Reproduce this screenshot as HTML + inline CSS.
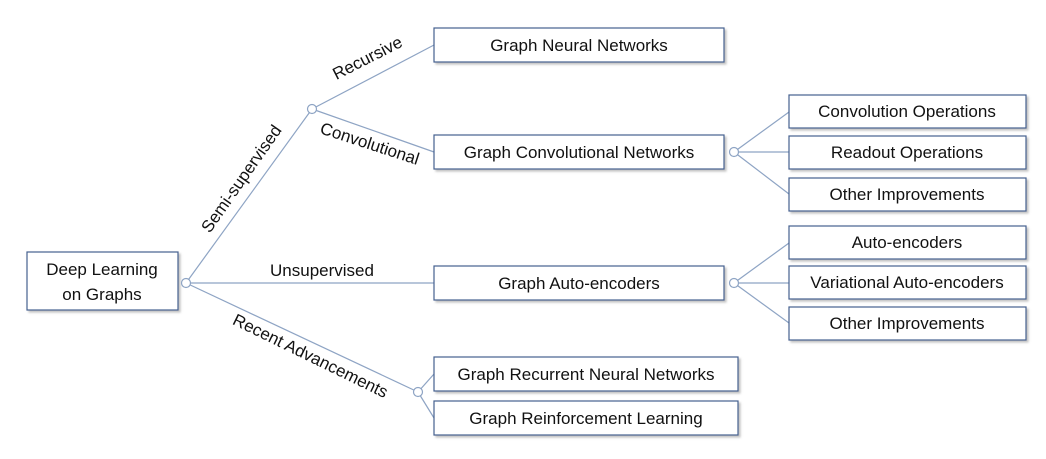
<!DOCTYPE html>
<html><head><meta charset="utf-8"><style>
html,body{margin:0;padding:0;background:#fff;}
svg{display:block;}
text{font-family:"Liberation Sans",sans-serif;font-size:17px;fill:#111;}
</style></head><body>
<svg width="1046" height="459" viewBox="0 0 1046 459">
<defs>
<filter id="sh" x="-5%" y="-10%" width="115%" height="130%"><feDropShadow dx="2" dy="2" stdDeviation="1" flood-color="#999" flood-opacity="0.6"/></filter>
</defs>
<g stroke="#8ea4c4" stroke-width="1.2" fill="none">
<line x1="186" y1="283" x2="312" y2="109"/>
<line x1="312" y1="109" x2="434" y2="45"/>
<line x1="312" y1="109" x2="434" y2="152"/>
<line x1="186" y1="283" x2="434" y2="283"/>
<line x1="186" y1="283" x2="418" y2="392"/>
<line x1="418" y1="392" x2="434" y2="374"/>
<line x1="418" y1="392" x2="434" y2="418"/>
<line x1="734" y1="152" x2="789" y2="112"/>
<line x1="734" y1="152" x2="789" y2="152"/>
<line x1="734" y1="152" x2="789" y2="194"/>
<line x1="734" y1="283" x2="789" y2="243"/>
<line x1="734" y1="283" x2="789" y2="283"/>
<line x1="734" y1="283" x2="789" y2="323"/>
</g>
<g fill="#fff" stroke="#44608f" stroke-width="1.2" filter="url(#sh)">
<rect x="27" y="252" width="151" height="58"/>
<rect x="434" y="28" width="290" height="34"/>
<rect x="434" y="135" width="290" height="34"/>
<rect x="434" y="266" width="290" height="34"/>
<rect x="434" y="357" width="304" height="34"/>
<rect x="434" y="401" width="304" height="34"/>
<rect x="789" y="95" width="237" height="33"/>
<rect x="789" y="136" width="237" height="33"/>
<rect x="789" y="178" width="237" height="33"/>
<rect x="789" y="226" width="237" height="33"/>
<rect x="789" y="266" width="237" height="33"/>
<rect x="789" y="307" width="237" height="33"/>
</g>
<g fill="#fff" stroke="#8ea4c4" stroke-width="1.2">
<circle cx="186" cy="283" r="4.5"/>
<circle cx="312" cy="109" r="4.5"/>
<circle cx="418" cy="392" r="4.5"/>
<circle cx="734" cy="152" r="4.5"/>
<circle cx="734" cy="283" r="4.5"/>
</g>
<g text-anchor="middle">
<text x="102" y="275">Deep Learning</text>
<text x="102" y="300">on Graphs</text>
<text x="579" y="51">Graph Neural Networks</text>
<text x="579" y="158">Graph Convolutional Networks</text>
<text x="579" y="289">Graph Auto-encoders</text>
<text x="586" y="380">Graph Recurrent Neural Networks</text>
<text x="586" y="424">Graph Reinforcement Learning</text>
<text x="907" y="117">Convolution Operations</text>
<text x="907" y="158">Readout Operations</text>
<text x="907" y="200">Other Improvements</text>
<text x="907" y="248">Auto-encoders</text>
<text x="907" y="288">Variational Auto-encoders</text>
<text x="907" y="329">Other Improvements</text>
<text x="322" y="276">Unsupervised</text>
<text transform="translate(370,63) rotate(-27)">Recursive</text>
<text transform="translate(368,149) rotate(18)">Convolutional</text>
<text transform="translate(246,182) rotate(-55)">Semi-supervised</text>
<text transform="translate(308,361) rotate(26)">Recent Advancements</text>
</g>
</svg>
</body></html>
